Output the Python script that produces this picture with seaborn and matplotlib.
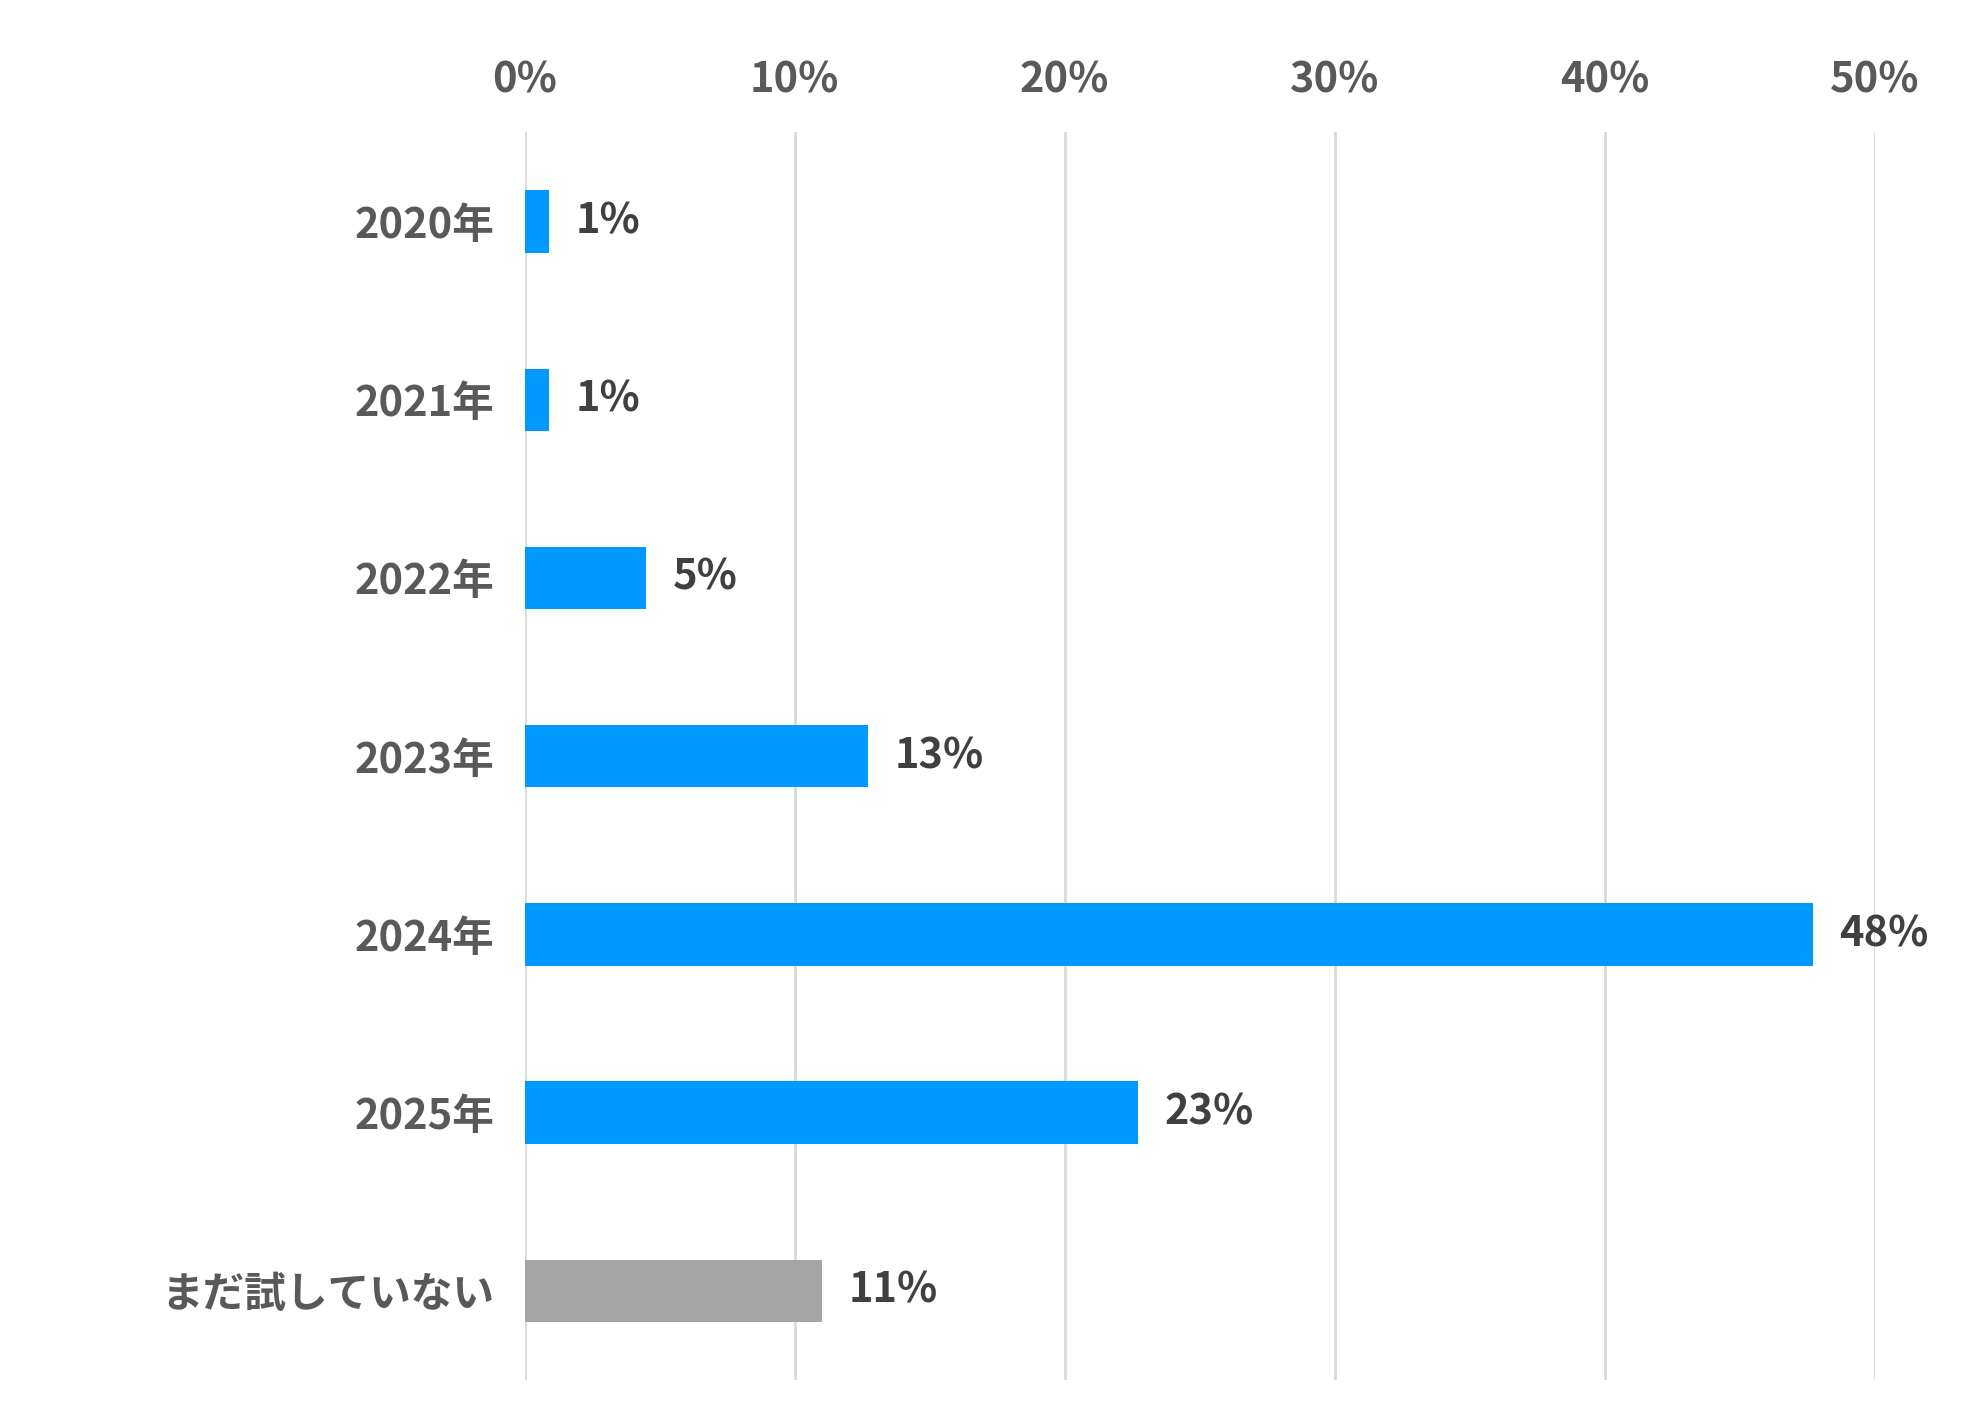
import matplotlib.pyplot as plt
import seaborn as sns
import pandas as pd

categories = ["2020年", "2021年", "2022年", "2023年", "2024年", "2025年", "まだ試していない"]
values = [0.9, 0.9, 4.5, 12.7, 47.7, 22.7, 11.0]
labels = ["1%", "1%", "5%", "13%", "48%", "23%", "11%"]
colors = ["#0099FF"] * 6 + ["#A5A5A5"]

plt.rcParams["font.family"] = "Noto Sans CJK JP"
df = pd.DataFrame({"cat": categories, "val": values})

fig = plt.figure(figsize=(19.65, 14.24), dpi=100)
ax = fig.add_axes([0.267, 0.031, 0.687, 0.876])
sns.barplot(data=df, x="val", y="cat", hue="cat", palette=colors, legend=False,
            width=0.35, ax=ax, saturation=1)

ax.set_xlim(0, 50)
ax.set_xticks(range(0, 51, 10))
ax.set_xticklabels([f"{t}%" for t in range(0, 51, 10)])
ax.xaxis.tick_top()
ax.tick_params(axis="both", length=0, labelsize=30, labelcolor="#595959", pad=22)
for lab in ax.get_xticklabels() + ax.get_yticklabels():
    lab.set_fontweight("bold")
ax.grid(axis="x", color="#D9D9D9", linewidth=2)
ax.set_axisbelow(True)
for s in ax.spines.values():
    s.set_visible(False)
ax.set_xlabel("")
ax.set_ylabel("")

for i, (v, t) in enumerate(zip(values, labels)):
    ax.text(v + 1, i, t, va="center", ha="left", fontsize=30, fontweight="bold", color="#404040")

fig.savefig("out.png", dpi=100)
